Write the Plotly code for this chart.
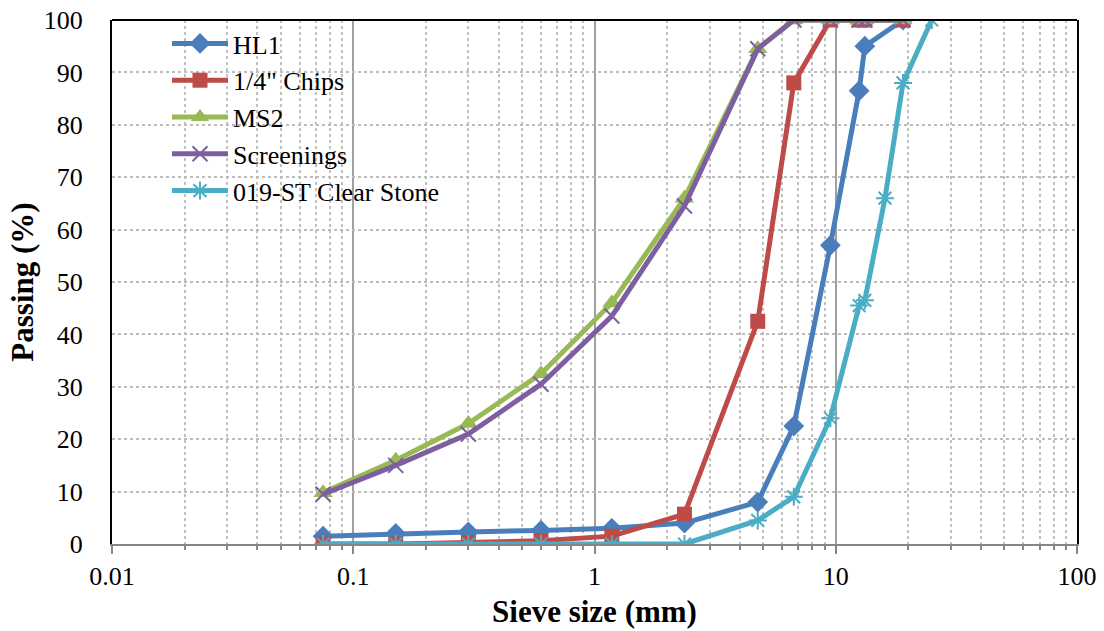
import plotly.graph_objects as go

sieve = [0.075, 0.15, 0.3, 0.6, 1.18, 2.36, 4.75, 6.7, 9.5, 12.5, 13.2, 19]
sieve_cs = [0.075, 0.15, 0.3, 0.6, 1.18, 2.36, 4.75, 6.7, 9.5, 12.5, 13.2, 16, 19, 25]

hl1 = [1.5, 2.0, 2.3, 2.6, 3.0, 4.0, 8.0, 22.5, 57.0, 86.5, 95.0, 100]
chips = [0.0, 0.0, 0.3, 0.6, 1.5, 5.7, 42.5, 88.0, 100, 100, 100, 100]
ms2 = [9.8, 16.0, 23.0, 32.5, 46.0, 66.0, 94.5, 100, 100, 100, 100, 100]
screenings = [9.5, 15.0, 21.0, 30.5, 43.5, 64.5, 94.5, 100, 100, 100, 100, 100]
clear_stone = [0, 0, 0, 0, 0, 0, 4.5, 9.0, 24.0, 45.5, 46.5, 66.0, 88.0, 100]

names = ["HL1", "1/4\" Chips", "MS2", "Screenings", "019-ST Clear Stone"]
colors = ["#4A7EBB", "#BE4B48", "#98B954", "#7D5FA0", "#4BACC6"]

x_ticks = [0.01, 0.1, 1, 10, 100]
x_ticktext = ["0.01", "0.1", "1", "10", "100"]
y_ticks = list(range(0, 101, 10))

FONT = "Liberation Serif"

fig = go.Figure()

series = [
    (sieve, hl1, dict(symbol="diamond", size=16, color=colors[0])),
    (sieve, chips, dict(symbol="square", size=15, color=colors[1])),
    (sieve, ms2, dict(symbol="triangle-up", size=17, color=colors[2])),
    (sieve, screenings, dict(symbol="x-thin-open", size=15, color=colors[3],
                             line=dict(width=2, color=colors[3]))),
    (sieve_cs, clear_stone, dict(symbol="asterisk-open", size=15, color=colors[4],
                                 line=dict(width=2, color=colors[4]))),
]
for i, (xs, ys, mk) in enumerate(series):
    fig.add_trace(go.Scatter(
        x=xs, y=ys, mode="lines+markers", name=names[i],
        line=dict(color=colors[i], width=5),
        marker=mk, legendgroup=str(i),
    ))

fig.update_layout(
    width=1104, height=631,
    margin=dict(l=112, r=27, t=20, b=87),
    paper_bgcolor="white", plot_bgcolor="white",
    font=dict(family=FONT, size=26, color="black"),
    showlegend=True,
    legend=dict(x=0.057, y=1.0, xanchor="left", yanchor="top",
                bgcolor="rgba(0,0,0,0)", font=dict(size=26, family=FONT, color="black"),
                tracegroupgap=0, itemwidth=56),
    shapes=[dict(type="line", xref="paper", yref="paper", x0=0, x1=1, y0=1, y1=1,
                 line=dict(color="black", width=2))],
)

fig.update_xaxes(
    type="log", range=[-2, 2], automargin=False,
    tickvals=x_ticks, ticktext=x_ticktext,
    showline=True, linecolor="#868686", linewidth=2,
    ticks="outside", ticklen=8, tickcolor="#868686", tickwidth=1.5,
    showgrid=True, gridcolor="#A0A0A0", gridwidth=1.5,
    minor=dict(dtick="D1", showgrid=True, gridcolor="#C0C0C0", griddash="dot",
               gridwidth=1.5, ticks="outside", ticklen=4, tickcolor="#868686"),
    tickfont=dict(size=26, family=FONT, color="black"),
    title=dict(text="<b>Sieve size (mm)</b>", font=dict(size=31, family=FONT), standoff=10),
    zeroline=False,
)
fig.update_yaxes(
    range=[0, 100], tickvals=y_ticks, automargin=False,
    showline=True, linecolor="black", linewidth=2, mirror=True,
    ticks="", showgrid=True, gridcolor="#BDBDBD", griddash="dot", gridwidth=1.5,
    tickfont=dict(size=26, family=FONT, color="black"), ticklabelstandoff=22,
    title=dict(text="<b>Passing (%)</b>", font=dict(size=31, family=FONT), standoff=1),
    zeroline=False,
)

fig.write_html("out.html")
